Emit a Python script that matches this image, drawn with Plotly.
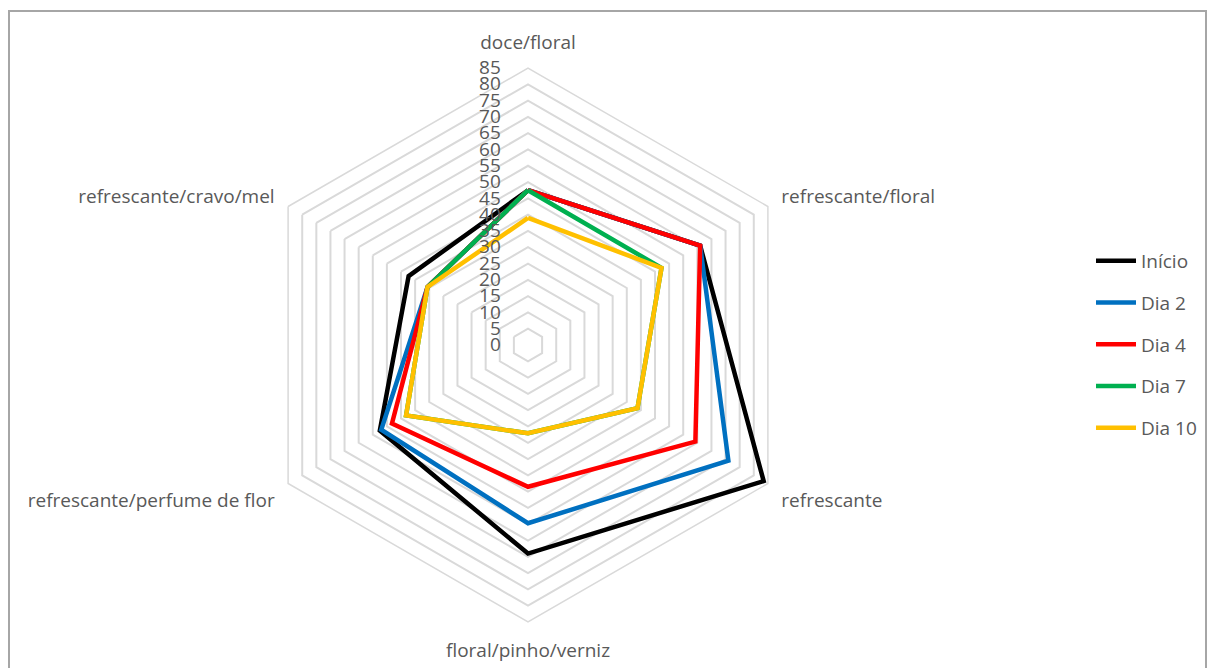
import plotly.graph_objects as go

categories = ["doce/floral", "refrescante/floral", "refrescante",
              "floral/pinho/verniz", "refrescante/perfume de flor", "refrescante/cravo/mel"]
series_names = ["Início", "Dia 2", "Dia 4", "Dia 7", "Dia 10"]
inicio = [47.5, 61, 83.5, 64, 52.5, 42.3]
dia2 = [47.5, 61, 71, 54.7, 52, 35.6]
dia4 = [47.5, 61, 59.3, 43.5, 48.2, 35.6]
dia7 = [47.5, 47.3, 38.8, 27.1, 43.2, 35.6]
dia10 = [39, 47.3, 38.8, 27.1, 43.2, 35.6]
radial_ticks = list(range(0, 90, 5))

colors = ["#000000", "#0070C0", "#FF0000", "#00B050", "#FFC000"]
all_series = [inicio, dia2, dia4, dia7, dia10]

W, H = 1207, 668
cx, cy, R = 528, 345, 277

fig = go.Figure()
for i, (name, vals) in enumerate(zip(series_names, all_series)):
    fig.add_trace(go.Scatterpolar(
        r=vals + [vals[0]], theta=categories + [categories[0]],
        mode="lines", name=name, legendgroup=name,
        line=dict(color=colors[i], width=4.5),
    ))

font_family = "'Open Sans', Lato, sans-serif"
fig.update_layout(
    width=W, height=H,
    margin=dict(l=0, r=0, t=0, b=0),
    paper_bgcolor="white",
    font=dict(family=font_family, size=19, color="#595959"),
    polar=dict(
        domain=dict(x=[(cx - R) / W, (cx + R) / W], y=[(H - cy - R) / H, (H - cy + R) / H]),
        gridshape="linear",
        bgcolor="white",
        angularaxis=dict(rotation=90, direction="clockwise", showgrid=False,
                         showline=True, linecolor="#d9d9d9", linewidth=1.5,
                         ticks="outside", ticklen=11, tickcolor="rgba(0,0,0,0)",
                         tickfont=dict(size=19, color="#595959")),
        radialaxis=dict(range=[0, 85], tickvals=radial_ticks, ticktext=[str(v) for v in radial_ticks],
                        angle=90, side="counterclockwise", tickangle=90,
                        showline=False, ticks="outside", ticklen=20, tickcolor="rgba(0,0,0,0)",
                        gridcolor="#d9d9d9", gridwidth=1.5,
                        tickfont=dict(size=19, color="#595959")),
    ),
    showlegend=True,
    legend=dict(x=1091 / W, y=(H - 242) / H, xanchor="left", yanchor="top",
                tracegroupgap=14, font=dict(size=19, color="#595959"), itemwidth=40),
    shapes=[dict(type="rect", xref="paper", yref="paper",
                 x0=9 / W, x1=1206 / W, y0=-0.1, y1=(H - 11) / H,
                 line=dict(color="#a6a6a6", width=2), fillcolor="rgba(0,0,0,0)", layer="below")],
)

fig.write_html("out.html", config={"displayModeBar": False},
               post_script="document.body.style.margin='0';")
